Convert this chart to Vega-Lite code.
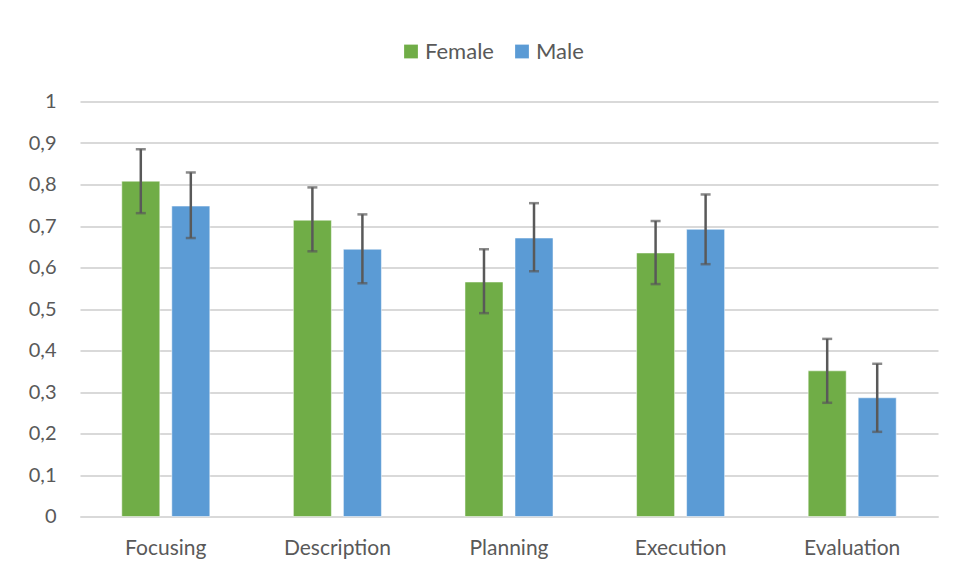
{
  "$schema": "https://vega.github.io/schema/vega-lite/v6.json",
  "autosize": "none",
  "width": 858,
  "height": 415,
  "padding": {"left": 80, "top": 101.5, "right": 15, "bottom": 53.5},
  "background": "white",
  "config": {
    "view": {"stroke": null},
    "font": "Lato",
    "axis": {"labelColor": "#595959", "labelFont": "Lato", "labelFontSize": 20}
  },
  "data": {
    "values": [
      {"stage": "Focusing", "gender": "Female", "value": 0.808, "lo": 0.731, "hi": 0.885},
      {"stage": "Focusing", "gender": "Male", "value": 0.748, "lo": 0.671, "hi": 0.829},
      {"stage": "Description", "gender": "Female", "value": 0.714, "lo": 0.639, "hi": 0.793},
      {"stage": "Description", "gender": "Male", "value": 0.644, "lo": 0.562, "hi": 0.728},
      {"stage": "Planning", "gender": "Female", "value": 0.565, "lo": 0.490, "hi": 0.644},
      {"stage": "Planning", "gender": "Male", "value": 0.671, "lo": 0.591, "hi": 0.755},
      {"stage": "Execution", "gender": "Female", "value": 0.635, "lo": 0.560, "hi": 0.712},
      {"stage": "Execution", "gender": "Male", "value": 0.692, "lo": 0.608, "hi": 0.776},
      {"stage": "Evaluation", "gender": "Female", "value": 0.351, "lo": 0.274, "hi": 0.428},
      {"stage": "Evaluation", "gender": "Male", "value": 0.286, "lo": 0.204, "hi": 0.368}
    ]
  },
  "encoding": {
    "x": {
      "field": "stage", "type": "nominal", "sort": null,
      "scale": {"paddingInner": 0.487, "paddingOuter": 0.2435},
      "axis": {"title": null, "labelAngle": 0, "ticks": false, "domainColor": "#d9d9d9", "domainWidth": 2, "labelPadding": 21, "labelFontSize": 21}
    },
    "xOffset": {
      "field": "gender", "type": "nominal", "sort": ["Female", "Male"],
      "scale": {"paddingInner": 0.24, "paddingOuter": 0}
    }
  },
  "layer": [
    {
      "mark": {"type": "bar", "stroke": "white", "strokeWidth": 0.5},
      "encoding": {
        "y": {
          "field": "value", "type": "quantitative",
          "scale": {"domain": [0, 1], "nice": false},
          "axis": {
            "title": null, "values": [0, 0.1, 0.2, 0.3, 0.4, 0.5, 0.6, 0.7, 0.8, 0.9, 1],
            "labelExpr": "replace(format(datum.value, '~g'), '.', ',')",
            "domain": false, "ticks": false, "gridColor": "#d9d9d9", "gridWidth": 2,
            "labelPadding": 24
          }
        },
        "color": {
          "field": "gender", "type": "nominal",
          "scale": {"domain": ["Female", "Male"], "range": ["#70AD47", "#5B9BD5"]},
          "legend": {
            "title": null, "orient": "none", "direction": "horizontal",
            "legendX": 320, "legendY": -61,
            "symbolType": "square", "symbolSize": 190, "symbolStrokeWidth": 0,
            "labelFontSize": 22, "labelColor": "#595959", "labelFont": "Lato",
            "columnPadding": 17, "labelOffset": 3
          }
        }
      }
    },
    {
      "mark": {"type": "rule", "color": "#595959", "strokeWidth": 2.5},
      "encoding": {"y": {"field": "lo", "type": "quantitative"}, "y2": {"field": "hi"}}
    },
    {
      "mark": {"type": "tick", "color": "#595959", "thickness": 2.5, "size": 10},
      "encoding": {"y": {"field": "lo", "type": "quantitative"}}
    },
    {
      "mark": {"type": "tick", "color": "#595959", "thickness": 2.5, "size": 10},
      "encoding": {"y": {"field": "hi", "type": "quantitative"}}
    }
  ]
}
